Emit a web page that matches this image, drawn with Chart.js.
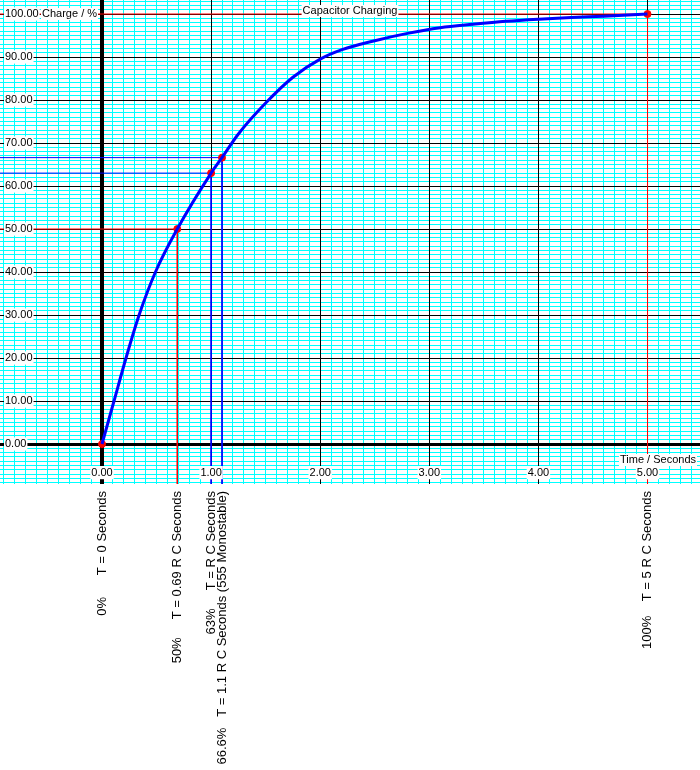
<!DOCTYPE html>
<html>
<head>
<meta charset="utf-8">
<title>Capacitor Charging</title>
<script src="https://cdn.jsdelivr.net/npm/chart.js@4.4.1/dist/chart.umd.min.js"></script>
<style>
  html, body { margin: 0; padding: 0; background: #fff; }
  canvas { display: block; }
</style>
</head>
<body>
<canvas id="chart" width="700" height="770"></canvas>
<script>
// Charging curve (time in RC, charge in %)
const timeValues = [0, 0.11, 0.22, 0.34, 0.49, 0.69, 1.0, 1.1, 1.25, 1.5, 1.75, 2.0, 2.2, 2.5, 2.8, 3.1, 3.4, 3.7, 4.0, 4.3, 4.6, 5.0];
const chargeValues = [0, 10, 20, 30, 40, 50, 63, 66.6, 72.1, 79.3, 85.3, 89.5, 91.7, 93.8, 95.5, 96.8, 97.6, 98.3, 98.8, 99.2, 99.5, 100];

// Marked points and their labels under the grid
const markerTimes = [0, 0.69, 1.0, 1.1, 5.0];
const markerCharges = [0, 50, 63, 66.6, 100];
const markerLabels = [
    '0%      T = 0 Seconds',
    '50%     T = 0.69 R C Seconds',
    '63%     T = R C Seconds',
    '66.6%   T = 1.1 R C Seconds (555 Monostable)',
    '100%    T = 5 R C Seconds'
];
const guideColors = [null, '#ff0000', '#0000ff', '#0000ff', '#ff0000'];

// Tick labels
const timeTicks = [0, 1, 2, 3, 4, 5];
const chargeTicks = [0, 10, 20, 30, 40, 50, 60, 70, 80, 90, 100];

// Visible ranges
const timeMin = -0.935, timeMax = 5.481;
const chargeMin = -9.3, chargeMax = 103.26;

const cyan = '#00ffff';
Chart.defaults.font.family = '"Liberation Sans", Arial, sans-serif';
Chart.defaults.font.size = 11;
Chart.defaults.color = '#000';

const curve = timeValues.map((t, i) => ({ x: t, y: chargeValues[i] }));
const markers = markerTimes.map((t, i) => ({ x: t, y: markerCharges[i] }));

// Guide lines from the left edge to each marker and down to the bottom
const guides = [];
markerTimes.forEach((t, i) => {
    if (!guideColors[i]) return;
    guides.push({
        type: 'line',
        data: [
            { x: timeMin, y: markerCharges[i] },
            { x: t, y: markerCharges[i] },
            { x: t, y: chargeMin }
        ],
        borderColor: guideColors[i],
        borderWidth: 1,
        pointRadius: 0,
        tension: 0,
        fill: false,
        order: 3
    });
});

function setTicks(values) {
    return scale => { scale.ticks = values.map(v => ({ value: v })); };
}

function textBox(ctx, text, x, y, align) {
    const w = ctx.measureText(text).width;
    const left = align === 'center' ? x - w / 2 : align === 'right' ? x - w : x;
    ctx.fillStyle = '#fff';
    ctx.fillRect(left - 1, y - 6, w + 2, 12);
    ctx.fillStyle = '#000';
    ctx.textAlign = align;
    ctx.fillText(text, x, y);
}

// Axis titles and chart title drawn inside the grid
const axisText = {
    id: 'axisText',
    afterDraw(chart) {
        const { ctx, chartArea, scales } = chart;
        ctx.save();
        ctx.font = '11px "Liberation Sans", Arial, sans-serif';
        ctx.textBaseline = 'middle';
        textBox(ctx, 'Capacitor Charging', (chartArea.left + chartArea.right) / 2, 11, 'center');
        textBox(ctx, 'Charge / %', chartArea.left + 42, scales.y.getPixelForValue(100), 'left');
        textBox(ctx, 'Time / Seconds', chartArea.right - 4, scales.y.getPixelForValue(0) + 16, 'right');
        ctx.restore();
    }
};

new Chart(document.getElementById('chart'), {
    type: 'line',
    data: {
        datasets: [
            {
                data: curve,
                borderColor: '#0000ff',
                borderWidth: 3,
                pointRadius: 0,
                cubicInterpolationMode: 'monotone',
                fill: false,
                order: 1
            },
            {
                data: markers,
                showLine: false,
                pointRadius: 3.5,
                pointBorderWidth: 1,
                pointBackgroundColor: '#ff0000',
                pointBorderColor: '#ff0000',
                order: 2
            },
            ...guides
        ]
    },
    options: {
        responsive: false,
        animation: false,
        events: [],
        layout: { padding: 0, autoPadding: false },
        plugins: { legend: { display: false }, tooltip: { enabled: false } },
        scales: {
            // minor cyan grid
            x: {
                type: 'linear', position: 'bottom', min: timeMin, max: timeMax,
                ticks: { display: false, stepSize: 0.1, includeBounds: false, autoSkip: false },
                grid: { color: cyan, drawTicks: false, z: -3 },
                border: { display: false }
            },
            y: {
                type: 'linear', position: 'left', min: chargeMin, max: chargeMax,
                ticks: { display: false, stepSize: 1, includeBounds: false, autoSkip: false },
                grid: { color: cyan, drawTicks: false, z: -3 },
                border: { display: false }
            },
            // black major lines + labels along the zero line
            xl: {
                axis: 'x', type: 'linear', position: { y: 0 }, min: timeMin, max: timeMax,
                afterBuildTicks: setTicks(timeTicks),
                afterFit: s => { s.paddingLeft = 0; s.paddingRight = 0; },
                ticks: {
                    callback: v => v.toFixed(2), padding: 22, maxRotation: 0, autoSkip: false, z: 1,
                    showLabelBackdrop: true, backdropColor: '#fff',
                    backdropPadding: { left: 1, right: 1, top: 0, bottom: 0 }
                },
                grid: {
                    drawTicks: false, z: -2, color: '#000',
                    lineWidth: c => (c.tick && c.tick.value === 0 ? 4 : 1)
                },
                border: { display: false }
            },
            yl: {
                axis: 'y', type: 'linear', position: 'left', min: chargeMin, max: chargeMax,
                afterBuildTicks: setTicks(chargeTicks),
                afterFit: s => { s.width = 0; s.paddingTop = 0; s.paddingBottom = 0; },
                ticks: {
                    callback: v => v.toFixed(2), mirror: true, padding: 5, autoSkip: false, z: 1,
                    showLabelBackdrop: true, backdropColor: '#fff',
                    backdropPadding: { left: 1, right: 1, top: 0, bottom: 0 }
                },
                grid: {
                    drawTicks: false, z: -2, color: '#000',
                    lineWidth: c => (c.tick && c.tick.value === 0 ? 3 : 1)
                },
                border: { display: false }
            },
            // rotated marker labels below the grid
            xb: {
                axis: 'x', type: 'linear', position: 'bottom', min: timeMin, max: timeMax,
                afterBuildTicks: setTicks(markerTimes),
                afterFit: s => { s.height = 286; s.paddingLeft = 0; s.paddingRight = 0; },
                ticks: {
                    callback: (v, i) => markerLabels[i],
                    minRotation: 90, maxRotation: 90, autoSkip: false, padding: 7,
                    font: { size: 13 }
                },
                grid: { display: false, drawTicks: false },
                border: { display: false }
            }
        }
    },
    plugins: [axisText]
});
</script>
</body>
</html>
